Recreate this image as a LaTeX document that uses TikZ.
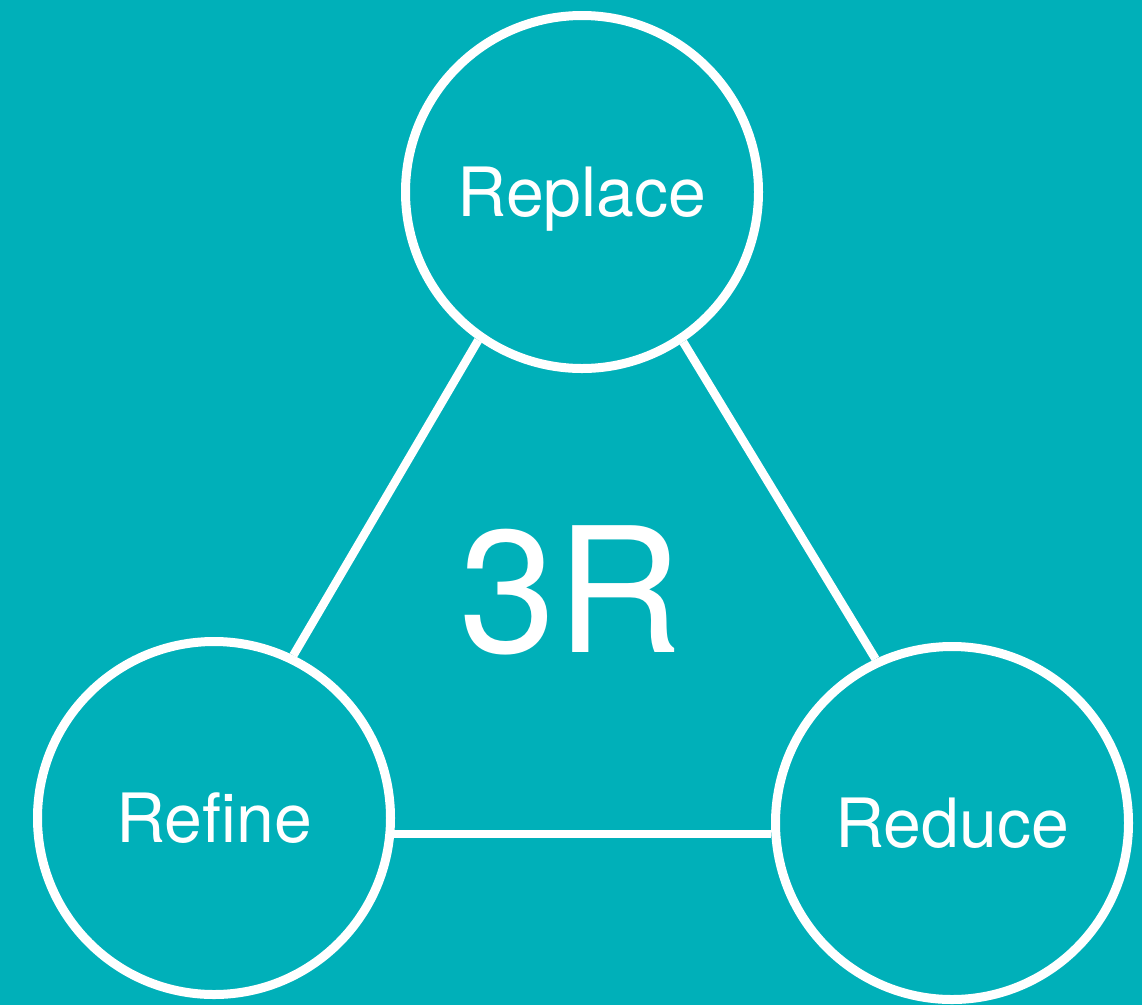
\documentclass[tikz,border=0pt]{standalone}
\usepackage{fontspec}
\setmainfont{TeX Gyre Heros}
\usetikzlibrary{positioning}

\definecolor{tealbg}{RGB}{0,176,185}

\begin{document}
\begin{tikzpicture}[%
    x=1pt, y=-1pt,
    every node/.style={text=white},
    rcircle/.style={circle, draw=white, line width=9pt,
        minimum size=353pt, inner sep=0pt,
        font=\fontsize{68}{80}\selectfont,
        text height=49pt, text depth=0pt},
    link/.style={draw=white, line width=8.5pt}
    ]
    \fill[tealbg] (0,0) rectangle (1142,1005);

    \node[rcircle] (replace) at (582,192) {Replace};
    \node[rcircle] (refine)  at (214,818) {Refine};
    \node[rcircle] (reduce)  at (952,823) {Reduce};

    \node[font=\fontsize{174}{190}\selectfont, text height=125pt,
          text depth=0pt, inner sep=0pt] (center) at (571,590) {3R};

    \path[link] (replace.235) -- (refine.64);
    \path[link] (replace.304) -- (reduce.115);
    \path[link] (refine.355.5) -- (refine.355.5 -| reduce.west);
\end{tikzpicture}
\end{document}
